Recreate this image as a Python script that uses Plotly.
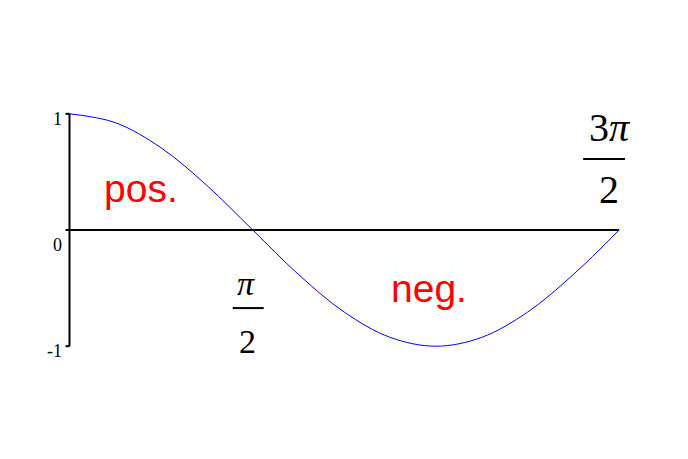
import math
import plotly.graph_objects as go

# Curve samples (x in radians, y values)
x_vals = [k * math.pi / 8 for k in range(13)]
y_vals = [1.0, 0.924, 0.707, 0.383, 0.0, -0.383, -0.707, -0.924, -1.0, -0.924, -0.707, -0.383, 0.0]

x_end = 3 * math.pi / 2
y_ticks = [1, 0, -1]
y_tick_labels = ["1", "0", "-1"]
y_tick_shift = [-5, -15, -5]

region_labels = ["pos.", "neg."]
region_x = [0.612, 3.078]
region_y = [0.36, -0.50]

fig = go.Figure()
fig.add_trace(go.Scatter(x=x_vals, y=y_vals, mode="lines", line=dict(color="#0000ff", width=1, shape="spline", smoothing=1.0),
                         hoverinfo="skip", showlegend=False))

# axes as shapes
fig.add_shape(type="line", x0=0, x1=x_end, y0=0, y1=0, line=dict(color="black", width=2), layer="below")
fig.add_shape(type="line", x0=0, x1=0, y0=min(y_ticks), y1=max(y_ticks), line=dict(color="black", width=2))
for t, lab, sh in zip(y_ticks, y_tick_labels, y_tick_shift):
    fig.add_shape(type="line", xref="x", yref="y", xsizemode="pixel", xanchor=0, x0=-4, x1=0, y0=t, y1=t,
                  line=dict(color="black", width=2))
    fig.add_annotation(x=0, y=t, text=lab, showarrow=False, xanchor="right", yanchor="middle", xshift=-5, yshift=sh,
                       font=dict(family="Liberation Serif", size=18, color="black"))

for lab, xx, yy in zip(region_labels, region_x, region_y):
    fig.add_annotation(x=xx, y=yy, text=lab, showarrow=False, xanchor="center", yanchor="middle",
                       font=dict(family="Liberation Sans", size=39, color="red"))

serif = dict(family="Liberation Serif", size=34, color="black")
serif_big = dict(family="Liberation Serif", size=40, color="black")
# pi/2 fraction
xa = math.pi / 2
fig.add_annotation(x=xa, y=-0.46, text="<i>π</i>", showarrow=False, xshift=-7, font=serif)
fig.add_shape(type="line", xref="x", yref="y", xsizemode="pixel", xanchor=xa, x0=-20, x1=11, y0=-0.672, y1=-0.672,
              line=dict(color="black", width=2))
fig.add_annotation(x=xa, y=-0.96, text="2", showarrow=False, xshift=-5, font=serif)
# 3pi/2 fraction
xb = x_end
fig.add_annotation(x=xb, y=0.88, text="3<i>π</i>", showarrow=False, xshift=-10, font=serif_big)
fig.add_shape(type="line", xref="x", yref="y", xsizemode="pixel", xanchor=xb, x0=-36, x1=17, y0=0.612, y1=0.612,
              line=dict(color="black", width=2))
fig.add_annotation(x=xb, y=0.35, text="2", showarrow=False, xshift=-10, font=serif_big)

fig.update_layout(
    width=688, height=459,
    margin=dict(l=56, r=71, t=100, b=115),
    paper_bgcolor="white", plot_bgcolor="white",
    xaxis=dict(range=[-0.0471, x_end + 0.0501], visible=False, fixedrange=True),
    yaxis=dict(range=[-1.05, 1.05], visible=False, fixedrange=True),
)
fig.write_html("out.html")
